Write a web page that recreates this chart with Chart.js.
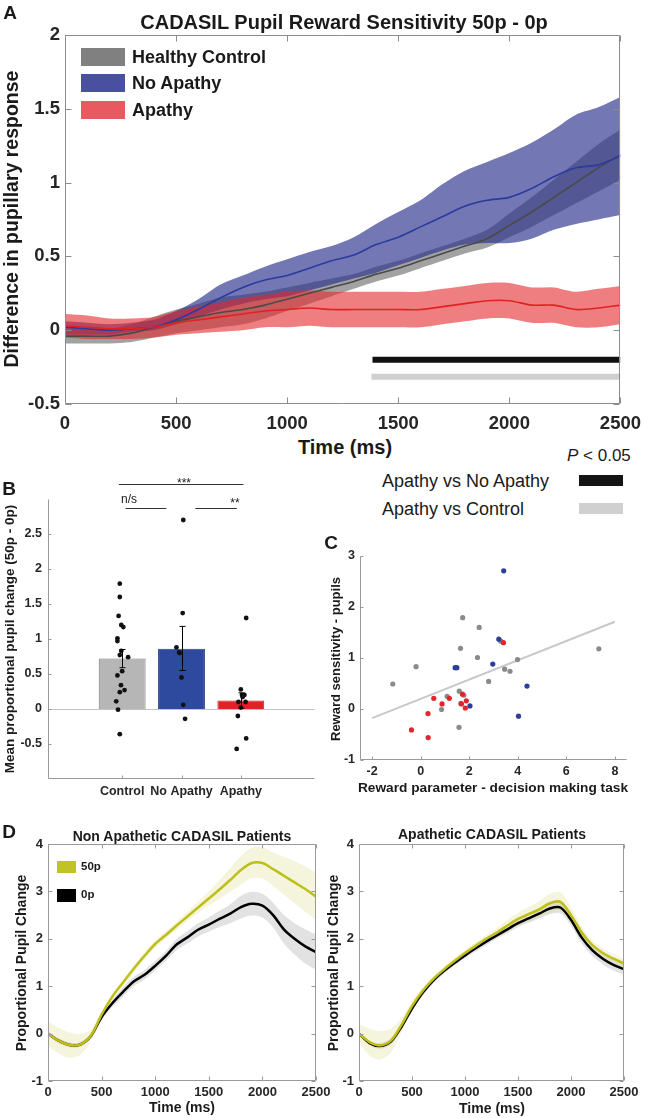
<!DOCTYPE html>
<html><head><meta charset="utf-8">
<script src="https://cdn.jsdelivr.net/npm/chart.js@4.4.1/dist/chart.umd.min.js"></script>
<style>
html,body{margin:0;padding:0;background:#fff;}
body{width:650px;height:1118px;position:relative;overflow:hidden;font-family:'Liberation Sans',Arial,Helvetica,sans-serif;color:#1a1a1a;}
canvas{position:absolute;}
.t{position:absolute;white-space:nowrap;transform:translate(-50%,-50%);line-height:1;}
.b{font-weight:bold;}
.r{transform:translate(-50%,-50%) rotate(-90deg);}
.l{transform:translate(0,-50%);}
.sw{position:absolute;}
</style></head><body>
<canvas id="cA"></canvas><canvas id="cB"></canvas><canvas id="cC"></canvas><canvas id="cD1"></canvas><canvas id="cD2"></canvas>

<div class="t b" style="left:10px;top:12px;font-size:19px">A</div>
<div class="t b" style="left:344px;top:22px;font-size:20px">CADASIL Pupil Reward Sensitivity 50p - 0p</div>
<div class="t b r" style="left:12px;top:219px;font-size:19.5px">Difference in pupillary response</div>
<div class="t b" style="left:345px;top:447px;font-size:20px">Time (ms)</div>
<div class="sw" style="left:81px;top:48px;width:44px;height:18px;background:#808080"></div>
<div class="t b l" style="left:132px;top:57px;font-size:18px">Healthy Control</div>
<div class="sw" style="left:81px;top:74px;width:44px;height:18px;background:#4a50a0"></div>
<div class="t b l" style="left:132px;top:83px;font-size:18px">No Apathy</div>
<div class="sw" style="left:81px;top:101px;width:44px;height:18px;background:#e85a5f"></div>
<div class="t b l" style="left:132px;top:110px;font-size:18px">Apathy</div>

<div class="t l" style="left:567px;top:455px;font-size:17px"><i>P</i> &lt; 0.05</div>
<div class="t l" style="left:382px;top:481px;font-size:18px">Apathy vs No Apathy</div>
<div class="sw" style="left:579px;top:475px;width:44px;height:11px;background:#141414"></div>
<div class="t l" style="left:382px;top:509px;font-size:18px">Apathy vs Control</div>
<div class="sw" style="left:579px;top:503px;width:44px;height:11px;background:#d0d0d0"></div>

<div class="t b" style="left:9px;top:488px;font-size:19px">B</div>
<div class="t b r" style="left:10px;top:639px;font-size:13.5px">Mean proportional pupil change (50p - 0p)</div>
<div class="t" style="left:184px;top:483px;font-size:12px">***</div>
<div class="t" style="left:129px;top:499px;font-size:12px">n/s</div>
<div class="t" style="left:235px;top:503px;font-size:12px">**</div>

<div class="t b" style="left:331px;top:542px;font-size:19px">C</div>
<div class="t b r" style="left:335px;top:659px;font-size:13px">Reward sensitivity - pupils</div>
<div class="t b" style="left:493px;top:788px;font-size:13.7px">Reward parameter - decision making task</div>

<div class="t b" style="left:9px;top:831px;font-size:19px">D</div>
<div class="t b" style="left:182px;top:836px;font-size:14px">Non Apathetic CADASIL Patients</div>
<div class="t b" style="left:492px;top:834px;font-size:14px">Apathetic CADASIL Patients</div>
<div class="t b r" style="left:21px;top:963px;font-size:14px">Proportional Pupil Change</div>
<div class="t b r" style="left:333px;top:963px;font-size:14px">Proportional Pupil Change</div>
<div class="t b" style="left:182px;top:1107px;font-size:14px">Time (ms)</div>
<div class="t b" style="left:492px;top:1108px;font-size:14px">Time (ms)</div>
<div class="sw" style="left:57px;top:861px;width:19px;height:12px;background:#c2c228"></div>
<div class="t b l" style="left:81px;top:867px;font-size:11.5px">50p</div>
<div class="sw" style="left:57px;top:889px;width:19px;height:13px;background:#000"></div>
<div class="t b l" style="left:81px;top:895px;font-size:11.5px">0p</div>

<script>
// ---------------- DATA ----------------
const timeMs = [0,100,200,300,400,500,600,700,800,900,1000,1100,1200,1300,1400,1500,1600,1700,1800,1900,2000,2100,2200,2300,2400,2500];

// Panel A
const controlMean = [-0.04,-0.04,-0.04,-0.02,0.02,0.06,0.09,0.12,0.14,0.17,0.21,0.25,0.29,0.33,0.38,0.42,0.47,0.52,0.57,0.62,0.71,0.80,0.90,1.00,1.10,1.19];
const controlSE   = [0.05,0.05,0.05,0.06,0.07,0.08,0.09,0.10,0.10,0.09,0.08,0.07,0.06,0.05,0.05,0.05,0.05,0.05,0.05,0.06,0.08,0.10,0.12,0.14,0.16,0.17];
const noApathyMean  = [0.02,0.01,0.00,0.01,0.02,0.07,0.14,0.22,0.29,0.34,0.37,0.42,0.47,0.51,0.58,0.63,0.70,0.77,0.84,0.88,0.90,0.96,1.04,1.10,1.12,1.18];
const noApathyUpper = [0.06,0.05,0.04,0.05,0.07,0.13,0.21,0.31,0.37,0.43,0.48,0.53,0.57,0.63,0.72,0.80,0.88,0.99,1.08,1.14,1.20,1.27,1.36,1.46,1.51,1.58];
const noApathyLower = [-0.03,-0.03,-0.03,-0.01,0.00,0.04,0.09,0.14,0.18,0.21,0.23,0.27,0.31,0.35,0.39,0.44,0.49,0.54,0.58,0.59,0.59,0.62,0.68,0.72,0.75,0.78];
const apathyMean = [0.03,0.02,0.01,0.01,0.02,0.05,0.07,0.09,0.11,0.13,0.14,0.15,0.14,0.14,0.14,0.14,0.14,0.16,0.18,0.20,0.20,0.17,0.17,0.14,0.15,0.17];
const apathySE   = [0.08,0.08,0.07,0.07,0.07,0.08,0.09,0.10,0.11,0.11,0.12,0.12,0.12,0.12,0.12,0.12,0.12,0.12,0.12,0.12,0.12,0.12,0.12,0.12,0.13,0.13];
const sigApathyVsNoApathy = [1384, 2500];
const sigApathyVsControl  = [1379, 2500];
const sigLevels = [-0.2, -0.315];
const ticksA_x = [0,500,1000,1500,2000,2500];
const ticksA_y = [-0.5,0,0.5,1,1.5,2];

// Panel B
const groupNames = ['Control','No Apathy','Apathy'];
const groupPos = [1,2,3];
const groupMeans = [0.72,0.86,0.12];
const groupErrLow = [0.59,0.55,0.01];
const groupErrHigh = [0.85,1.18,0.23];
const controlDots = [1.79,1.60,1.33,1.20,1.17,1.01,0.97,0.83,0.77,0.74,0.54,0.48,0.34,0.27,0.24,0.11,-0.01,-0.36];
const controlJitter = [-0.04,-0.04,-0.06,-0.015,0.02,-0.08,-0.08,-0.015,-0.04,0.10,0.0,-0.08,-0.02,0.04,-0.04,-0.10,-0.07,-0.04];
const noApathyDots = [2.70,1.37,0.88,0.81,0.80,0.45,0.06,-0.14];
const noApathyJitter = [0.03,0.02,-0.085,-0.04,-0.03,0.0,0.03,0.06];
const apathyDots = [1.30,0.28,0.20,0.20,0.17,0.10,0.10,0.02,-0.10,-0.42,-0.57];
const apathyJitter = [0.09,0.0,0.02,0.06,0.03,-0.04,0.08,0.0,-0.05,0.09,-0.07];
const ticksB_y = [-0.5,0,0.5,1,1.5,2,2.5];
// significance brackets: [x1, x2, y]
const sigBrackets = [[0.944,3.044,3.21],[1.056,1.744,2.87],[2.233,2.933,2.87]];

// Panel C
const ctrlRewardX = [-1.15,-0.19,1.73,2.41,1.64,2.34,3.99,3.46,3.68,2.80,1.59,1.09,1.78,0.86,1.58,7.34,3.30,1.65];
const ctrlPupilY  = [0.49,0.83,1.79,1.60,1.19,1.01,0.97,0.78,0.74,0.54,0.35,0.25,0.27,-0.01,-0.36,1.18,1.33,0.11];
const noApRewardX = [3.42,3.22,2.97,1.42,1.49,4.38,2.03,4.03];
const noApPupilY  = [2.71,1.37,0.88,0.81,0.81,0.45,0.06,-0.14];
const apRewardX   = [3.41,0.54,1.18,1.72,0.88,1.68,1.88,1.84,0.30,-0.38,0.31];
const apPupilY    = [1.30,0.21,0.21,0.29,0.10,0.10,0.16,0.02,-0.09,-0.41,-0.56];
const fitX = [-2, 8];
const fitY = [-0.18, 1.71];
const ticksC_x = [-2,0,2,4,6,8];
const ticksC_y = [-1,0,1,2,3];

// Panel D
const nonAp50 = [0.0,-0.15,-0.24,-0.23,-0.04,0.40,0.78,1.08,1.37,1.64,1.89,2.08,2.28,2.47,2.66,2.85,3.04,3.24,3.45,3.60,3.60,3.47,3.33,3.19,3.05,2.89];
const nonAp50SE = [0.26,0.27,0.27,0.22,0.12,0.07,0.06,0.06,0.07,0.07,0.08,0.08,0.09,0.10,0.12,0.15,0.20,0.25,0.30,0.32,0.33,0.35,0.40,0.44,0.48,0.50];
const nonAp0 = [0.0,-0.15,-0.24,-0.23,-0.05,0.35,0.64,0.88,1.10,1.24,1.43,1.64,1.88,2.03,2.19,2.30,2.42,2.53,2.67,2.74,2.70,2.50,2.20,2.00,1.84,1.72];
const nonAp0SE = [0.04,0.05,0.05,0.05,0.05,0.06,0.08,0.10,0.10,0.10,0.10,0.10,0.12,0.13,0.14,0.15,0.17,0.20,0.24,0.25,0.25,0.26,0.30,0.33,0.36,0.37];
const ap50 = [0.0,-0.18,-0.25,-0.15,0.18,0.58,0.90,1.15,1.35,1.53,1.70,1.85,2.00,2.13,2.28,2.42,2.52,2.62,2.75,2.78,2.50,2.14,1.87,1.70,1.58,1.48];
const ap50SE = [0.20,0.28,0.30,0.25,0.15,0.10,0.07,0.06,0.06,0.06,0.06,0.07,0.08,0.10,0.12,0.13,0.15,0.17,0.20,0.20,0.17,0.12,0.10,0.10,0.10,0.10];
const ap0 = [0.0,-0.20,-0.26,-0.17,0.14,0.53,0.86,1.12,1.32,1.49,1.65,1.80,1.94,2.07,2.20,2.33,2.43,2.53,2.64,2.66,2.40,2.03,1.76,1.58,1.45,1.36];
const ap0SE = [0.03,0.05,0.06,0.06,0.06,0.06,0.06,0.06,0.06,0.06,0.06,0.07,0.07,0.07,0.08,0.08,0.09,0.10,0.12,0.12,0.12,0.12,0.12,0.12,0.12,0.12];
const ticksD_x = [0,500,1000,1500,2000,2500];
const ticksD_y = [-1,0,1,2,3,4];

// ---------------- HELPERS ----------------
Chart.defaults.font.family = "'Liberation Sans', Arial, Helvetica, sans-serif";
Chart.defaults.color = '#262626';
const fmt = v => String(Math.round(v*100)/100);
const NONE = 'rgba(0,0,0,0)';

const axesBox = {
  id:'axesBox',
  afterDraw(chart, args, o){
    if(!o || !o.on) return;
    const {ctx, chartArea:a} = chart; const x = chart.scales.x, y = chart.scales.y;
    ctx.save(); ctx.strokeStyle = o.color; ctx.lineWidth = 1; ctx.beginPath();
    const L=Math.round(a.left)+0.5, R=Math.round(a.right)-0.5, T=Math.round(a.top)+0.5, B=Math.round(a.bottom)-0.5;
    ctx.moveTo(L,T); ctx.lineTo(L,B); ctx.lineTo(R,B);
    if(o.box){ ctx.lineTo(R,T); ctx.lineTo(L,T); }
    const tl=o.tick;
    x.ticks.forEach(t=>{ const p=Math.round(x.getPixelForValue(t.value))+0.5; ctx.moveTo(p,B); ctx.lineTo(p,B-tl); if(o.box){ctx.moveTo(p,T);ctx.lineTo(p,T+tl);} });
    y.ticks.forEach(t=>{ const p=Math.round(y.getPixelForValue(t.value))+0.5; ctx.moveTo(L,p); ctx.lineTo(L+tl,p); if(o.box){ctx.moveTo(R,p);ctx.lineTo(R-tl,p);} });
    ctx.stroke(); ctx.restore();
  }
};
Chart.register(axesBox);

function place(id, plot, m){
  const c=document.getElementById(id);
  const w=plot.r-plot.l+m.l+m.r, h=plot.b-plot.t+m.t+m.b;
  c.width=w; c.height=h;
  c.style.left=(plot.l-m.l)+'px'; c.style.top=(plot.t-m.t)+'px';
  c.style.width=w+'px'; c.style.height=h+'px';
  return c;
}
function opts(m, xs, ys, box){
  return {responsive:false, animation:false, events:[],
    layout:{padding:{left:0,top:m.t,right:m.r,bottom:0}},
    plugins:{legend:{display:false}, tooltip:{enabled:false}, axesBox:box},
    scales:{
      x:Object.assign({grid:{display:false,drawTicks:false}, border:{display:false}, afterFit:s=>{s.height=m.b;}}, xs),
      y:Object.assign({grid:{display:false,drawTicks:false}, border:{display:false}, afterFit:s=>{s.width=m.l;}}, ys)
    }};
}
function fixedTicks(list){ return s=>{ s.ticks = list.map(v=>({value:v})); }; }
function pts(xs, ys){ return xs.map((x,i)=>({x, y:ys[i]})); }
function bandPair(upper, lower, color, order){
  return [
    {type:'line', data:pts(timeMs, upper), borderColor:NONE, borderWidth:0, pointRadius:0, fill:'+1', backgroundColor:color, order, tension:0.3},
    {type:'line', data:pts(timeMs, lower), borderColor:NONE, borderWidth:0, pointRadius:0, fill:false, order, tension:0.3}
  ];
}
function lineDs(ys, color, w, order){
  return {type:'line', data:pts(timeMs, ys), borderColor:color, borderWidth:w, pointRadius:0, fill:false, order, tension:0.3};
}
const plus = (a,b)=>a.map((v,i)=>v+b[i]);
const minus = (a,b)=>a.map((v,i)=>v-b[i]);

// ---------------- PANEL A ----------------
(function(){
  const plot={l:65,t:35,r:624,b:404}, m={l:65,t:35,r:26,b:32};
  const c=place('cA',plot,m);
  const f={size:18.5, weight:'bold'};
  new Chart(c,{type:'line',
    data:{datasets:[
      ...bandPair(plus(controlMean,controlSE), minus(controlMean,controlSE), 'rgba(100,100,100,0.6)', 30),
      ...bandPair(noApathyUpper, noApathyLower, 'rgba(40,48,140,0.65)', 20),
      ...bandPair(plus(apathyMean,apathySE), minus(apathyMean,apathySE), 'rgba(228,40,45,0.6)', 10),
      lineDs(controlMean,'#4a4a4a',1.6,3),
      lineDs(noApathyMean,'#2b3a9e',1.6,2),
      lineDs(apathyMean,'#e02222',1.6,1),
      {type:'line', data:pts(sigApathyVsNoApathy,[sigLevels[0],sigLevels[0]]), borderColor:'#111', borderWidth:6, borderCapStyle:'butt', pointRadius:0, fill:false, order:0},
      {type:'line', data:pts(sigApathyVsControl,[sigLevels[1],sigLevels[1]]), borderColor:'#d0d0d0', borderWidth:6, borderCapStyle:'butt', pointRadius:0, fill:false, order:0}
    ]},
    options:opts(m,
      {type:'linear', min:0, max:2500, afterBuildTicks:fixedTicks(ticksA_x), ticks:{font:f, padding:9, maxRotation:0, autoSkip:false, callback:fmt}},
      {type:'linear', min:-0.5, max:2, afterBuildTicks:fixedTicks(ticksA_y), ticks:{font:f, padding:5, callback:fmt}},
      {on:true, box:true, tick:6, color:'#8c8c8c'})
  });
})();

// ---------------- PANEL B ----------------
(function(){
  const plot={l:48,t:499,r:315,b:779}, m={l:48,t:32,r:10,b:24};
  const c=place('cB',plot,m);
  const f={size:12.5, weight:'bold'};
  const dots = [
    ...controlDots.map((v,i)=>({x:groupPos[0]+controlJitter[i], y:v})),
    ...noApathyDots.map((v,i)=>({x:groupPos[1]+noApathyJitter[i], y:v})),
    ...apathyDots.map((v,i)=>({x:groupPos[2]+apathyJitter[i], y:v}))
  ];
  const extras = {
    id:'bExtras',
    beforeDatasetsDraw(chart){
      const {ctx, chartArea:a} = chart; const y=chart.scales.y;
      const p=Math.round(y.getPixelForValue(0))+0.5;
      ctx.save(); ctx.strokeStyle='#c4c4c4'; ctx.lineWidth=1; ctx.beginPath(); ctx.moveTo(a.left,p); ctx.lineTo(a.right,p); ctx.stroke(); ctx.restore();
    },
    afterDatasetsDraw(chart){
      const {ctx} = chart; const x=chart.scales.x, y=chart.scales.y;
      ctx.save(); ctx.strokeStyle='#000'; ctx.lineWidth=1; ctx.beginPath();
      groupPos.forEach((g,i)=>{
        const px=Math.round(x.getPixelForValue(g))+0.5, lo=y.getPixelForValue(groupErrLow[i]), hi=y.getPixelForValue(groupErrHigh[i]);
        ctx.moveTo(px,lo); ctx.lineTo(px,hi);
        ctx.moveTo(px-3,hi); ctx.lineTo(px+3,hi); ctx.moveTo(px-3,lo); ctx.lineTo(px+3,lo);
      });
      ctx.stroke();
      ctx.strokeStyle='#333'; ctx.beginPath();
      sigBrackets.forEach(s=>{ const py=Math.round(y.getPixelForValue(s[2]))+0.5; ctx.moveTo(x.getPixelForValue(s[0]),py); ctx.lineTo(x.getPixelForValue(s[1]),py); });
      ctx.stroke(); ctx.restore();
    }
  };
  new Chart(c,{type:'bar',
    data:{datasets:[
      {type:'bar', data:pts(groupPos,groupMeans), backgroundColor:['#b6b6b6','#2e4a9e','#e42026'], borderColor:['#7a7a7a','#2a3f8a','#c81c20'], borderWidth:1, barPercentage:0.79, categoryPercentage:1, order:5},
      {type:'scatter', data:dots, pointRadius:2.4, backgroundColor:'#111', borderWidth:0, order:1}
    ]},
    options:opts(m,
      {type:'linear', min:0.5, max:3.5, afterBuildTicks:fixedTicks(groupPos), ticks:{font:f, padding:5, maxRotation:0, autoSkip:false, callback:v=>groupNames[groupPos.indexOf(v)]}},
      {type:'linear', min:-1, max:3, afterBuildTicks:fixedTicks(ticksB_y), ticks:{font:f, padding:6, callback:fmt}},
      {on:true, box:false, tick:3, color:'#999'}),
    plugins:[extras]
  });
})();

// ---------------- PANEL C ----------------
(function(){
  const plot={l:360,t:556,r:627,b:760}, m={l:32,t:14,r:14,b:22};
  const c=place('cC',plot,m);
  const f={size:12.5, weight:'bold'};
  new Chart(c,{type:'scatter',
    data:{datasets:[
      {type:'line', data:pts(fitX,fitY), borderColor:'#c8c8c8', borderWidth:2, pointRadius:0, fill:false, order:10},
      {data:pts(ctrlRewardX,ctrlPupilY), pointRadius:2.6, backgroundColor:'#8a8a8a', borderWidth:0, order:3},
      {data:pts(noApRewardX,noApPupilY), pointRadius:2.6, backgroundColor:'#2b3f9a', borderWidth:0, order:2},
      {data:pts(apRewardX,apPupilY), pointRadius:2.6, backgroundColor:'#e0262a', borderWidth:0, order:1}
    ]},
    options:opts(m,
      {type:'linear', min:-2.5, max:8.5, afterBuildTicks:fixedTicks(ticksC_x), ticks:{font:f, padding:4, maxRotation:0, autoSkip:false, callback:fmt}},
      {type:'linear', min:-1, max:3, afterBuildTicks:fixedTicks(ticksC_y), ticks:{font:f, padding:5, callback:fmt}},
      {on:true, box:false, tick:3, color:'#999'})
  });
})();

// ---------------- PANEL D ----------------
function panelD(id, plot, m, y50, se50, y0, se0){
  const c=place(id,plot,m);
  const f={size:13, weight:'bold'};
  const d50 = bandPair(plus(y50,se50), minus(y50,se50), 'rgba(215,215,120,0.25)', 10);
  const d0 = bandPair(plus(y0,se0), minus(y0,se0), 'rgba(150,150,150,0.28)', 20);
  new Chart(c,{type:'line',
    data:{datasets:[
      ...d0, ...d50,
      lineDs(y0,'#000',2.5,2),
      lineDs(y50,'#bfbf1a',2.5,1)
    ]},
    options:opts(m,
      {type:'linear', min:0, max:2500, afterBuildTicks:fixedTicks(ticksD_x), ticks:{font:f, padding:4, maxRotation:0, autoSkip:false, callback:fmt}},
      {type:'linear', min:-1, max:4, afterBuildTicks:fixedTicks(ticksD_y), ticks:{font:f, padding:5, callback:fmt}},
      {on:true, box:true, tick:4, color:'#9a9a9a'})
  });
}
panelD('cD1', {l:48,t:844,r:316,b:1081}, {l:48,t:14,r:22,b:22}, nonAp50, nonAp50SE, nonAp0, nonAp0SE);
panelD('cD2', {l:359,t:844,r:624,b:1081}, {l:30,t:14,r:22,b:22}, ap50, ap50SE, ap0, ap0SE);
</script>
</body></html>
